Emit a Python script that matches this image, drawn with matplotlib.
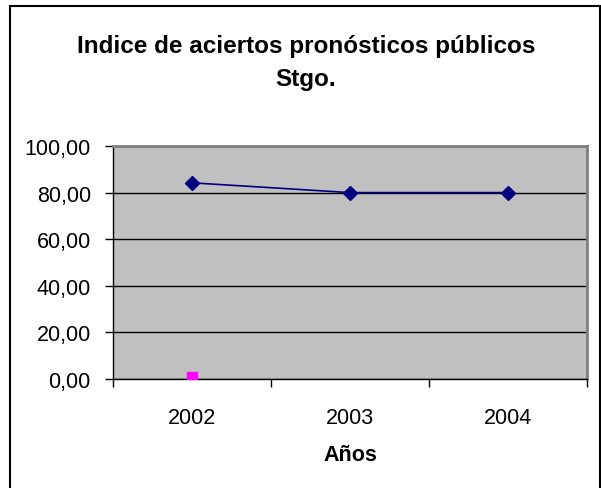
import matplotlib.pyplot as plt
from matplotlib.patches import Rectangle

years = ["2002", "2003", "2004"]
indice = [84.2, 80.0, 80.0]
otro_x = ["2002"]
otro = [1.0]
yticks = [0, 20, 40, 60, 80, 100]

plt.rcParams['font.family'] = ['Liberation Sans', 'DejaVu Sans']

fig = plt.figure(figsize=(6.01, 4.89), dpi=100)
W, H = 601, 489

# outer chart border
fig.patches.append(Rectangle((10.5 / W, -0.01), (600 - 10.5) / W, (H - 7) / H + 0.01,
                             transform=fig.transFigure, fill=False,
                             edgecolor='black', linewidth=1.5))

ax = fig.add_axes([113 / W, 1 - 380 / H, (587 - 113) / W, (380 - 147) / H])
ax.set_facecolor('#c0c0c0')

xs = list(range(len(years)))
ax.plot(xs, indice, color='#000080', linewidth=1.2, marker='D',
        markersize=7, markerfacecolor='#000080', markeredgecolor='#000080', zorder=3)
ax.plot([years.index(v) for v in otro_x], otro, linestyle='none', marker='s',
        markersize=6.5, color='#ff00ff', zorder=3)

ax.set_xlim(-0.5, len(years) - 0.5)
ax.set_ylim(0, 100)

ax.set_yticks(yticks)
ax.set_yticklabels([f"{v:.2f}".replace('.', ',') for v in yticks], fontsize=15.5)
ax.yaxis.grid(True, color='black', linewidth=1)
ax.set_axisbelow(True)

ax.set_xticks([i - 0.5 for i in range(len(years) + 1)])
ax.set_xticklabels([])
ax.set_xticks(xs, minor=True)
ax.set_xticklabels(years, minor=True, fontsize=15.5)
ax.tick_params(axis='x', which='minor', length=0, pad=20)
ax.tick_params(axis='x', which='major', length=6, width=1, color='black')
ax.tick_params(axis='y', length=6, width=1, color='black', pad=10)

for s in ['top', 'right']:
    ax.spines[s].set_color('#808080')
    ax.spines[s].set_linewidth(2)
for s in ['left', 'bottom']:
    ax.spines[s].set_color('black')
    ax.spines[s].set_linewidth(1)

ax.set_xlabel("Años", fontsize=15.5, fontweight='bold', labelpad=12)

fig.text(306 / W, 1 - 63 / H, "Indice de aciertos pronósticos públicos\nStgo.",
         ha='center', va='center', fontsize=17.5, fontweight='bold', linespacing=1.6)

fig.savefig("out.png", dpi=100)
